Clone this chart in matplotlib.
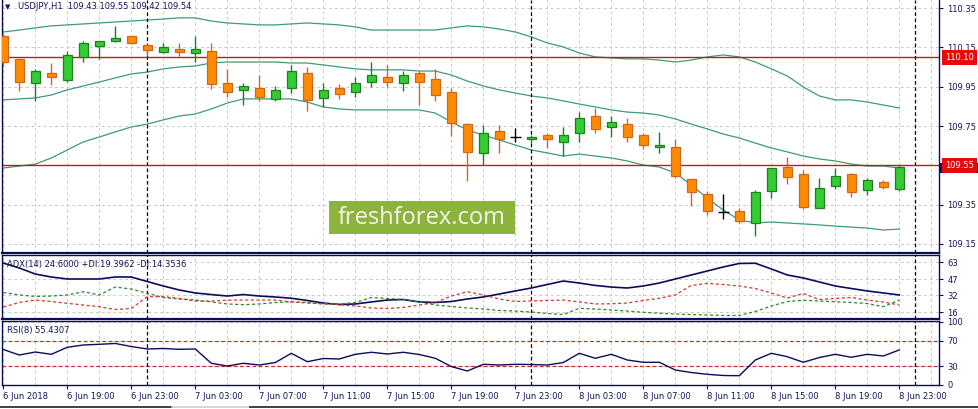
import numpy as np
import matplotlib.pyplot as plt
from matplotlib.patches import Rectangle
from matplotlib.lines import Line2D

plt.rcParams['font.family'] = 'DejaVu Sans'
plt.rcParams['font.size'] = 6

# USDJPY H1 candles, 6 Jun 15:00 .. 8 Jun 23:00
opens = [110.209, 110.090, 109.968, 110.019, 109.985, 110.100, 110.160, 110.185, 110.207, 110.163,
         110.129, 110.141, 110.121, 110.133, 109.969, 109.932, 109.944, 109.888, 109.942, 110.019,
         109.891, 109.942, 109.922, 109.976, 109.998, 109.968, 110.019, 109.990, 109.922, 109.760,
         109.611, 109.723, 109.696, 109.682, 109.704, 109.670, 109.713, 109.800, 109.743, 109.759,
         109.704, 109.642, 109.642, 109.482, 109.402, 109.310, 109.317, 109.254, 109.421, 109.540,
         109.506, 109.331, 109.443, 109.506, 109.422, 109.465, 109.430]
highs = [110.225, 110.095, 110.039, 110.073, 110.133, 110.185, 110.185, 110.260, 110.209, 110.170,
         110.172, 110.175, 110.209, 110.175, 110.041, 109.969, 110.009, 109.954, 110.061, 110.049,
         109.968, 109.963, 109.998, 110.078, 110.061, 110.032, 110.029, 110.041, 109.942, 109.767,
         109.755, 109.755, 109.742, 109.704, 109.716, 109.747, 109.820, 109.840, 109.801, 109.789,
         109.713, 109.721, 109.682, 109.482, 109.421, 109.402, 109.331, 109.424, 109.535, 109.594,
         109.524, 109.484, 109.538, 109.510, 109.487, 109.473, 109.550]
lows = [110.053, 109.930, 109.879, 109.959, 109.976, 110.078, 110.090, 110.180, 110.170, 110.107,
        110.121, 110.109, 110.078, 109.941, 109.900, 109.859, 109.879, 109.879, 109.920, 109.828,
        109.849, 109.890, 109.900, 109.951, 109.951, 109.930, 109.857, 109.879, 109.699, 109.472,
        109.551, 109.611, 109.670, 109.662, 109.640, 109.599, 109.670, 109.713, 109.692, 109.670,
        109.631, 109.611, 109.484, 109.343, 109.297, 109.275, 109.258, 109.191, 109.382, 109.453,
        109.327, 109.331, 109.431, 109.390, 109.400, 109.431, 109.420]
closes = [110.078, 109.976, 110.031, 109.998, 110.112, 110.172, 110.182, 110.197, 110.172, 110.139,
          110.151, 110.129, 110.141, 109.963, 109.922, 109.952, 109.900, 109.934, 110.029, 109.881,
          109.934, 109.912, 109.968, 110.009, 109.976, 110.009, 109.976, 109.910, 109.767, 109.619,
          109.713, 109.682, 109.696, 109.692, 109.682, 109.704, 109.789, 109.733, 109.769, 109.692,
          109.652, 109.652, 109.495, 109.412, 109.315, 109.310, 109.266, 109.412, 109.535, 109.492,
          109.339, 109.433, 109.495, 109.412, 109.473, 109.441, 109.540]

# Bollinger bands
bb_upper = [110.229, 110.239, 110.250, 110.260, 110.265, 110.270, 110.275, 110.280, 110.285, 110.290,
            110.295, 110.301, 110.301, 110.285, 110.275, 110.270, 110.265, 110.265, 110.270, 110.275,
            110.270, 110.265, 110.255, 110.239, 110.239, 110.239, 110.239, 110.239, 110.250, 110.260,
            110.255, 110.244, 110.229, 110.204, 110.173, 110.153, 110.122, 110.102, 110.097, 110.092,
            110.092, 110.086, 110.076, 110.086, 110.102, 110.112, 110.102, 110.076, 110.041, 110.005,
            109.949, 109.903, 109.883, 109.883, 109.872, 109.857, 109.842]
bb_mid = [109.883, 109.888, 109.893, 109.908, 109.934, 109.954, 109.974, 109.995, 110.015, 110.025,
          110.041, 110.051, 110.056, 110.071, 110.076, 110.076, 110.076, 110.076, 110.071, 110.071,
          110.061, 110.051, 110.041, 110.036, 110.036, 110.036, 110.030, 110.030, 110.010, 109.979,
          109.954, 109.934, 109.918, 109.903, 109.893, 109.878, 109.862, 109.847, 109.832, 109.821,
          109.816, 109.806, 109.786, 109.760, 109.735, 109.709, 109.689, 109.663, 109.638, 109.618,
          109.597, 109.582, 109.572, 109.556, 109.546, 109.546, 109.536]
bb_lower = [109.536, 109.546, 109.556, 109.587, 109.628, 109.669, 109.694, 109.720, 109.745, 109.760,
            109.781, 109.801, 109.811, 109.837, 109.867, 109.888, 109.888, 109.888, 109.888, 109.872,
            109.847, 109.837, 109.832, 109.832, 109.832, 109.832, 109.832, 109.816, 109.771, 109.730,
            109.704, 109.679, 109.653, 109.628, 109.613, 109.597, 109.607, 109.597, 109.587, 109.572,
            109.551, 109.541, 109.511, 109.449, 109.383, 109.322, 109.271, 109.256, 109.261, 109.256,
            109.251, 109.246, 109.240, 109.235, 109.230, 109.220, 109.225]

adx = [62.3, 57.6, 51.9, 49.1, 47.2, 47.2, 47.2, 49.1, 49.1, 44.8, 40.6, 36.8, 34.0, 32.5, 31.1,
       32.5, 31.1, 30.2, 29.0, 26.9, 24.5, 23.1, 23.6, 25.5, 27.3, 27.8, 25.5, 25.0, 25.9, 28.3,
       30.2, 33.0, 35.9, 38.7, 42.0, 45.3, 43.4, 41.1, 39.6, 38.7, 40.6, 43.4, 47.2, 51.0, 54.8,
       58.6, 61.9, 62.1, 56.7, 51.0, 48.2, 44.4, 40.6, 38.2, 35.9, 34.0, 32.1]
plus_di = [34.4, 32.1, 30.7, 31.1, 32.1, 35.2, 32.1, 39.6, 37.7, 33.7, 29.7, 28.3, 27.3, 25.5, 23.6,
           22.9, 23.6, 25.0, 25.7, 25.0, 23.6, 23.6, 25.0, 29.7, 28.8, 27.8, 25.5, 22.6, 21.2, 19.8,
           18.8, 17.4, 16.9, 16.0, 14.6, 13.6, 19.5, 18.8, 17.9, 16.9, 15.7, 14.8, 14.1, 13.6, 13.2,
           12.7, 12.7, 16.5, 21.7, 25.9, 27.1, 26.4, 25.7, 25.0, 24.0, 21.0, 27.3]
minus_di = [20.7, 25.0, 27.3, 25.9, 24.2, 22.6, 21.0, 18.4, 19.3, 30.5, 30.5, 28.8, 26.4, 26.4, 27.1,
            27.3, 27.3, 27.3, 25.5, 24.5, 23.8, 22.9, 21.7, 19.8, 19.3, 20.3, 22.6, 25.0, 31.1, 35.2,
            32.1, 28.3, 25.9, 26.4, 26.9, 27.3, 25.5, 23.6, 23.8, 24.5, 26.9, 29.0, 32.1, 41.1, 43.1,
            42.0, 40.6, 38.2, 34.0, 29.2, 33.5, 27.8, 28.8, 29.7, 27.3, 25.5, 22.6]
rsi = [56.1, 47.4, 52.1, 48.5, 59.6, 63.2, 64.3, 65.6, 60.8, 56.9, 57.7, 56.4, 56.9, 34.3, 30.0,
       34.3, 31.6, 35.5, 50.1, 36.8, 41.9, 41.1, 48.5, 51.7, 49.0, 51.7, 48.2, 42.2, 29.2, 22.1,
       32.7, 31.6, 32.7, 32.4, 31.6, 35.5, 50.1, 42.2, 48.5, 39.5, 35.9, 35.9, 23.7, 19.7, 16.9,
       15.0, 14.7, 39.5, 50.1, 44.7, 35.9, 43.4, 48.5, 43.8, 48.5, 45.8, 55.4]

time_labels = ['6 Jun 2018', '6 Jun 19:00', '6 Jun 23:00', '7 Jun 03:00', '7 Jun 07:00',
               '7 Jun 11:00', '7 Jun 15:00', '7 Jun 19:00', '7 Jun 23:00', '8 Jun 03:00',
               '8 Jun 07:00', '8 Jun 11:00', '8 Jun 15:00', '8 Jun 19:00', '8 Jun 23:00']
day_starts = [9, 33, 57]          # bars where a new day begins
levels = [110.10, 109.55]
bid = 109.54
price_ticks = [109.15, 109.35, 109.55, 109.75, 109.95, 110.15, 110.35]

NAVY = '#0c0c5e'
TXT = '#14145a'
GRID = '#c9c9c9'
UP_FILL, UP_EDGE = '#33cc33', '#1f7f1f'
DN_FILL, DN_EDGE = '#ff8c00', '#d2661a'
BB = '#3e9a7c'

W, H = 979, 409
fig = plt.figure(figsize=(W / 100, H / 100), dpi=100)


def rect(x0, y0, x1, y1):
    return [x0 / W, 1 - y1 / H, (x1 - x0) / W, (y1 - y0) / H]


ax = fig.add_axes(rect(2.5, 0, 939, 253))
ax_adx = fig.add_axes(rect(2.5, 255, 939, 319.3), sharex=ax)
ax_rsi = fig.add_axes(rect(2.5, 320.7, 939, 385), sharex=ax)

o, h, l, c = map(np.array, (opens, highs, lows, closes))
x = np.arange(len(o))
up, dn, dj = c > o, c < o, c == o

# candles
ax.vlines(x[up], l[up], h[up], color=UP_EDGE, lw=1, zorder=3)
ax.bar(x[up], c[up] - o[up], bottom=o[up], width=0.6, color=UP_FILL,
       edgecolor=UP_EDGE, lw=0.9, zorder=4)
ax.vlines(x[dn], l[dn], h[dn], color=DN_EDGE, lw=1, zorder=3)
ax.bar(x[dn], o[dn] - c[dn], bottom=c[dn], width=0.6, color=DN_FILL,
       edgecolor=DN_EDGE, lw=0.9, zorder=4)
ax.vlines(x[dj], l[dj], h[dj], color='black', lw=1, zorder=3)
ax.hlines(o[dj], x[dj] - 0.35, x[dj] + 0.35, color='black', lw=1, zorder=3)

for band in (bb_upper, bb_mid, bb_lower):
    ax.plot(x, band, color=BB, lw=0.9, zorder=2)
for lv in levels:
    ax.axhline(lv, color='#c41a1a', lw=1, zorder=2)

ax.set_xlim(-0.05, 58.48)
ax.set_ylim(109.103, 110.392)
ax.set_yticks(price_ticks)
# the 109.55 scale label is hidden under the red level box
ax.set_yticklabels(['' if p in levels else '%.2f' % p for p in price_ticks])

# ADX
ax_adx.plot(x, adx, color=NAVY, lw=1.2, zorder=3)
ax_adx.plot(x, plus_di, color='#2a8a2a', lw=0.9, ls=(0, (2.5, 2)), zorder=3)
ax_adx.plot(x, minus_di, color='#d43a2a', lw=0.9, ls=(0, (2.5, 2)), zorder=3)
ax_adx.set_ylim(9.1, 69.9)
ax_adx.set_yticks([16, 32, 47, 63])

# RSI
ax_rsi.plot(x, rsi, color=NAVY, lw=1, zorder=3)
for lv in (70, 30):
    ax_rsi.axhline(lv, color='#c8302a', lw=0.9, ls=(0, (3, 2)), zorder=2)
ax_rsi.set_ylim(0, 101.6)
ax_rsi.set_yticks([0, 30, 70, 100])
ylabs = ax_rsi.get_yticklabels()
ylabs[0].set_va('bottom')
ylabs[-1].set_va('top')

ax_rsi.set_xticks(np.arange(0, 57, 4))
ax_rsi.set_xticks(np.arange(0, 59, 2), minor=True)
ax_rsi.set_xticklabels(time_labels)
for t in ax_rsi.get_xticklabels():
    t.set_ha('left')

for a in (ax, ax_adx, ax_rsi):
    a.set_facecolor('white')
    a.set_axisbelow(True)
    a.grid(True, axis='x', which='both', color=GRID, ls=(0, (3, 3)), lw=0.7)
    a.grid(True, axis='y', which='major', color=GRID, ls=(0, (3, 3)), lw=0.7)
    a.yaxis.tick_right()
    a.tick_params(axis='y', direction='out', length=3, pad=3, labelsize=6,
                  color=NAVY, labelcolor=TXT, width=0.8)
    a.tick_params(axis='x', which='minor', length=0)
    for d in day_starts:
        a.axvline(d, color='black', lw=0.9, ls=(0, (3, 2)), zorder=2)
    for s in a.spines.values():
        s.set_color(NAVY)
        s.set_linewidth(1)
ax.spines['top'].set_visible(False)
ax.spines['bottom'].set_linewidth(1.6)
ax_adx.spines['bottom'].set_linewidth(1.6)
for a in (ax, ax_adx):
    a.tick_params(axis='x', which='both', labelbottom=False, length=0)
ax_rsi.tick_params(axis='x', which='major', length=3, pad=2, labelsize=6,
                   color=NAVY, labelcolor=TXT)

# price labels on the right scale (bid label sits just under the 109.55 one)
ytr = ax.get_yaxis_transform()
ax.add_patch(Rectangle((1.0015, bid - 0.031), 0.045, 0.05, transform=ytr,
                       fc=NAVY, ec='none', clip_on=False, zorder=5))
for lv in levels:
    ax.text(1.0068, lv, '%.2f' % lv, transform=ytr, ha='left', va='center', color='white',
            fontsize=6, clip_on=False, zorder=6,
            bbox=dict(boxstyle='square,pad=0.35', fc='#e60a0a', ec='none'))

# header texts
fig.text(5 / W, 1 - 7 / H, '\u25bc', color=TXT, fontsize=5, va='center')
fig.text(18 / W, 1 - 6.5 / H, 'USDJPY,H1  109.43 109.55 109.42 109.54', color=TXT,
         fontsize=6, va='center')
fig.text(7 / W, 1 - 265 / H, 'ADX(14) 24.6000 +DI:19.3962 -DI:14.3536', color=TXT,
         fontsize=6, va='center')
fig.text(7 / W, 1 - 331 / H, 'RSI(8) 55.4307', color=TXT, fontsize=6, va='center')

# watermark
fig.patches.append(Rectangle((329 / W, 1 - 234 / H), 186 / W, 33 / H,
                             transform=fig.transFigure, fc='#8cb33c', ec='none', zorder=5))
fig.text(422 / W, 1 - 217.5 / H, 'freshforex.com', family='Open Sans', fontsize=17,
         color='#f4f6ee', ha='center', va='center', zorder=6)

# bottom tab bar edge
fig.add_artist(Line2D([0, 172 / W], [1 - 406.5 / H] * 2, color='#202020', lw=1.2))
fig.add_artist(Line2D([172 / W, 250 / W], [1 - 406.5 / H] * 2, color='#d0d0d0', lw=1.2))
fig.add_artist(Line2D([250 / W, 1], [1 - 406.5 / H] * 2, color='#202020', lw=1.2))

fig.savefig('out.png', dpi=100, facecolor='white')
